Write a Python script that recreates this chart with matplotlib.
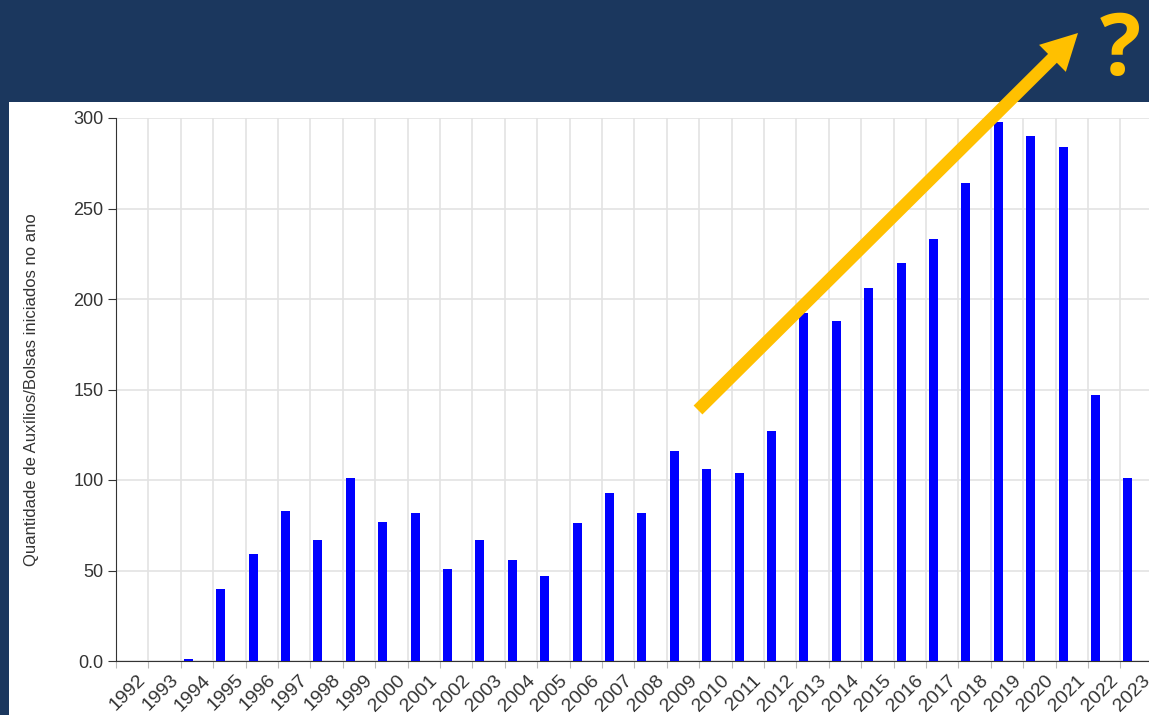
import numpy as np
import matplotlib
matplotlib.use("agg")
import matplotlib.pyplot as plt
from matplotlib.patches import Rectangle, FancyArrow
from matplotlib.transforms import ScaledTranslation

# data
years = list(range(1992, 2024))
counts = [0, 0, 1, 40, 59, 83, 67, 101, 77, 82, 51, 67, 56, 47, 76, 93,
          82, 116, 106, 104, 127, 192, 188, 206, 220, 233, 264, 298, 290, 284, 147, 101]
ytick_vals = [0, 50, 100, 150, 200, 250, 300]
ytick_labels = ["0.0", "50", "100", "150", "200", "250", "300"]

navy = "#1b375e"
gold = "#FFC000"
txt = "#333333"

plt.rcParams["font.family"] = ["Liberation Sans", "DejaVu Sans"]

W, H = 1149, 715
fig = plt.figure(figsize=(W / 100, H / 100), dpi=100, facecolor=navy)

# white panel under the banner
fig.patches.append(Rectangle((9 / W, 0), 1, (H - 102) / H, transform=fig.transFigure,
                             facecolor="white", edgecolor="none", zorder=-5))

n = len(years)
band = 32.4  # px per category
xmax = n + 0.05
# axes runs a little past the right edge of the picture, as in the screenshot
ax = fig.add_axes([116 / W, (H - 661) / H, xmax * band / W, 543 / H])
ax.set_facecolor("white")

ax.bar(np.arange(n) + 0.09, counts, width=0.28, align="edge", color="#0000FF", zorder=3)

ax.set_xlim(0, xmax)
ax.set_ylim(0, 300)

# ticks and gridlines sit on band edges; each year label hangs off its band's right edge
ax.set_xticks(np.arange(n + 1))
ax.set_xticklabels([""] + [str(y) for y in years], rotation=45, ha="right", va="center",
                   rotation_mode="anchor", fontsize=14, color=txt)
ax.tick_params(axis="x", length=5, color="#bbbbbb", pad=7)
ax.grid(True, axis="x", color="#e3e3e3", lw=1.2, zorder=0)
shift = ScaledTranslation(-5 / 100, 0, fig.dpi_scale_trans)
for lab in ax.get_xticklabels():
    lab.set_transform(lab.get_transform() + shift)

ax.set_yticks(ytick_vals)
ax.set_yticklabels(ytick_labels, fontsize=13, color=txt)
ax.tick_params(axis="y", length=6, color=txt, pad=3)
ax.grid(True, axis="y", color="#e3e3e3", lw=1.2, zorder=0)

for s in ["top", "right"]:
    ax.spines[s].set_visible(False)
ax.spines["left"].set_color(txt)
ax.spines["bottom"].set_color(txt)

ax.set_ylabel("Quantidade de Auxílios/Bolsas iniciados no ano", fontsize=12, color=txt)
ax.yaxis.set_label_coords(-77 / (xmax * band), 0.5)

# trend arrow + question mark in the banner
x0, y0 = 698, H - 410
x1, y1 = 1078, H - 33
fig.patches.append(FancyArrow(x0 / 100, y0 / 100, (x1 - x0) / 100, (y1 - y0) / 100,
                              width=0.125, head_width=0.38, head_length=0.36,
                              length_includes_head=True, color=gold, lw=0,
                              transform=fig.dpi_scale_trans, zorder=10))
fig.text(1120 / W, (H - 75) / H, "?", ha="center", va="baseline", color=gold,
         fontsize=62, fontweight="bold", family=["Open Sans", "DejaVu Sans"])

fig.savefig("out.png", dpi=100, facecolor=navy)
